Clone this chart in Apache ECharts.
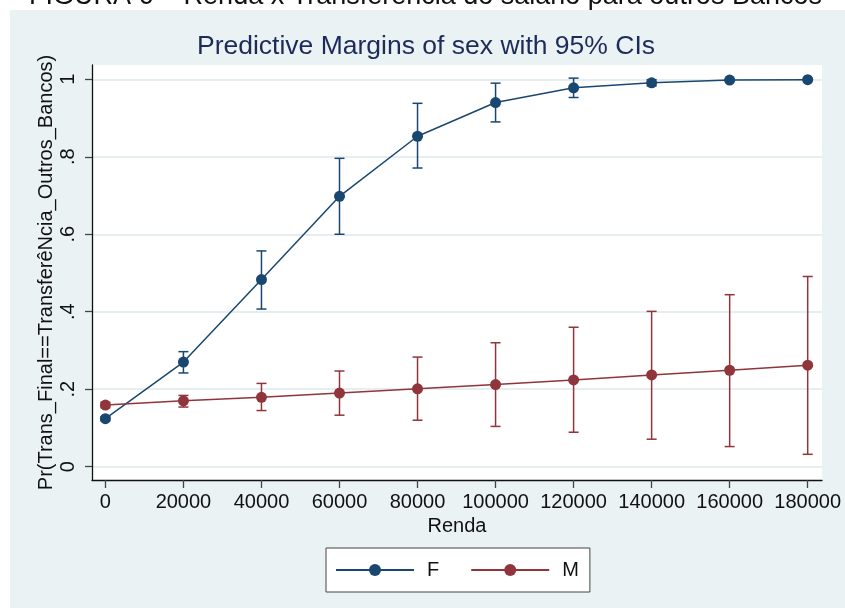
<!DOCTYPE html>
<html>
<head>
<meta charset="utf-8">
<script src="https://cdn.jsdelivr.net/npm/echarts@6/dist/echarts.min.js"></script>
<style>html,body{margin:0;padding:0;background:#fff;}#c{width:845px;height:608px;}</style>
</head>
<body>
<div id="c"></div>
<script>
const renda = [0, 20000, 40000, 60000, 80000, 100000, 120000, 140000, 160000, 180000];
const xTicks = [0, 20000, 40000, 60000, 80000, 100000, 120000, 140000, 160000, 180000];
const yTicks = [0, 0.2, 0.4, 0.6, 0.8, 1];
const yTickLabels = ['0', '.2', '.4', '.6', '.8', '1'];

const fMargin = [0.124, 0.270, 0.483, 0.698, 0.853, 0.940, 0.978, 0.991, 0.998, 0.999];
const fLow    = [0.119, 0.242, 0.407, 0.600, 0.771, 0.890, 0.953, 0.983, 0.996, 0.998];
const fHigh   = [0.129, 0.297, 0.557, 0.796, 0.938, 0.990, 1.003, 0.999, 1.000, 1.000];

const mMargin = [0.159, 0.170, 0.179, 0.190, 0.201, 0.212, 0.224, 0.237, 0.249, 0.262];
const mLow    = [0.152, 0.154, 0.145, 0.133, 0.120, 0.104, 0.089, 0.071, 0.052, 0.032];
const mHigh   = [0.166, 0.184, 0.215, 0.247, 0.283, 0.320, 0.360, 0.401, 0.444, 0.491];

const NAVY = '#1a476f';
const MAROON = '#90353b';
const FONT = '"Liberation Sans", Arial, Helvetica, sans-serif';

function errRender(color) {
  return function (params, api) {
    const x = api.value(0), lo = api.value(1), hi = api.value(2);
    const pLo = api.coord([x, lo]), pHi = api.coord([x, hi]);
    const w = 5;
    const style = { stroke: color, lineWidth: 1.5 };
    return {
      type: 'group',
      children: [
        { type: 'line', shape: { x1: pLo[0], y1: pLo[1], x2: pHi[0], y2: pHi[1] }, style: style },
        { type: 'line', shape: { x1: pLo[0] - w, y1: pLo[1], x2: pLo[0] + w, y2: pLo[1] }, style: style },
        { type: 'line', shape: { x1: pHi[0] - w, y1: pHi[1], x2: pHi[0] + w, y2: pHi[1] }, style: style }
      ]
    };
  };
}

const chart = echarts.init(document.getElementById('c'), null, { renderer: 'canvas' });
chart.setOption({
  animation: false,
  backgroundColor: '#ffffff',
  textStyle: { fontFamily: FONT },
  graphic: [
    { type: 'rect', z: -10, silent: true, shape: { x: 10, y: 10, width: 835, height: 598 }, style: { fill: '#eaf2f3' } },
    { type: 'text', z: 10, silent: true, style: { text: 'FIGURA 6 – Renda x Transferência do salário para outros Bancos', x: 425.5, y: -3.5, textAlign: 'center', textVerticalAlign: 'middle', font: '27px ' + FONT, fill: '#111' } },
    { type: 'rect', z: 9, silent: true, shape: { x: 10, y: 10, width: 835, height: 20 }, style: { fill: '#eaf2f3' } },
    { type: 'text', z: 10, silent: true, style: { text: 'Predictive Margins of sex with 95% CIs', x: 426, y: 47, textAlign: 'center', textVerticalAlign: 'middle', font: '26.5px ' + FONT, fill: '#1c2b5a' } }
  ],
  grid: { left: 92, top: 65, right: 23, bottom: 128, show: true, backgroundColor: '#ffffff', borderWidth: 0, containLabel: false },
  legend: {
    data: ['F', 'M'],
    left: 326, top: 548,
    orient: 'horizontal',
    backgroundColor: '#ffffff',
    borderColor: '#444',
    borderWidth: 1,
    padding: [12, 11, 12, 9],
    itemGap: 31,
    itemWidth: 78,
    itemHeight: 15,
    textStyle: { fontSize: 20, color: '#111', fontFamily: FONT, padding: [0, 0, 0, 8] }
  },
  xAxis: {
    type: 'value',
    min: -3435, max: 183666,
    name: 'Renda', nameLocation: 'middle', nameGap: 32,
    nameTextStyle: { fontSize: 20, color: '#111', fontFamily: FONT },
    axisLine: { show: true, onZero: false, lineStyle: { color: '#111', width: 1.3 } },
    axisTick: { show: true, customValues: xTicks, length: 8, lineStyle: { color: '#444', width: 1.3 } },
    axisLabel: { customValues: xTicks, fontSize: 20, color: '#111', margin: 12, fontFamily: FONT, formatter: function (v) { return String(v); } },
    splitLine: { show: false }
  },
  yAxis: {
    type: 'value',
    min: -0.0343, max: 1.0369,
    name: 'Pr(Trans_Final==TransferêNcia_Outros_Bancos)', nameLocation: 'middle', nameGap: 36, nameRotate: 90,
    nameMoveOverlap: false,
    nameTextStyle: { fontSize: 20, color: '#111', fontFamily: FONT },
    axisLine: { show: true, onZero: false, lineStyle: { color: '#111', width: 1.3 } },
    axisTick: { show: true, customValues: yTicks, length: 7, lineStyle: { color: '#444', width: 1.3 } },
    axisLabel: { customValues: yTicks, rotate: 90, fontSize: 20, color: '#111', margin: 14, fontFamily: FONT,
      formatter: function (v) { const i = yTicks.indexOf(v); return i >= 0 ? yTickLabels[i] : ''; } },
    splitLine: { show: true, lineStyle: { color: '#e6eef0', width: 2 } }
  },
  series: [
    { name: 'F CI', type: 'custom', renderItem: errRender(NAVY), data: renda.map((x, i) => [x, fLow[i], fHigh[i]]), z: 2, silent: true },
    { name: 'M CI', type: 'custom', renderItem: errRender(MAROON), data: renda.map((x, i) => [x, mLow[i], mHigh[i]]), z: 2, silent: true },
    { name: 'F', type: 'line', data: renda.map((x, i) => [x, fMargin[i]]), symbol: 'circle', symbolSize: 11, showSymbol: true,
      lineStyle: { color: NAVY, width: 1.5 }, itemStyle: { color: NAVY }, z: 3 },
    { name: 'M', type: 'line', data: renda.map((x, i) => [x, mMargin[i]]), symbol: 'circle', symbolSize: 11, showSymbol: true,
      lineStyle: { color: MAROON, width: 1.5 }, itemStyle: { color: MAROON }, z: 3 }
  ]
});
</script>
</body>
</html>
